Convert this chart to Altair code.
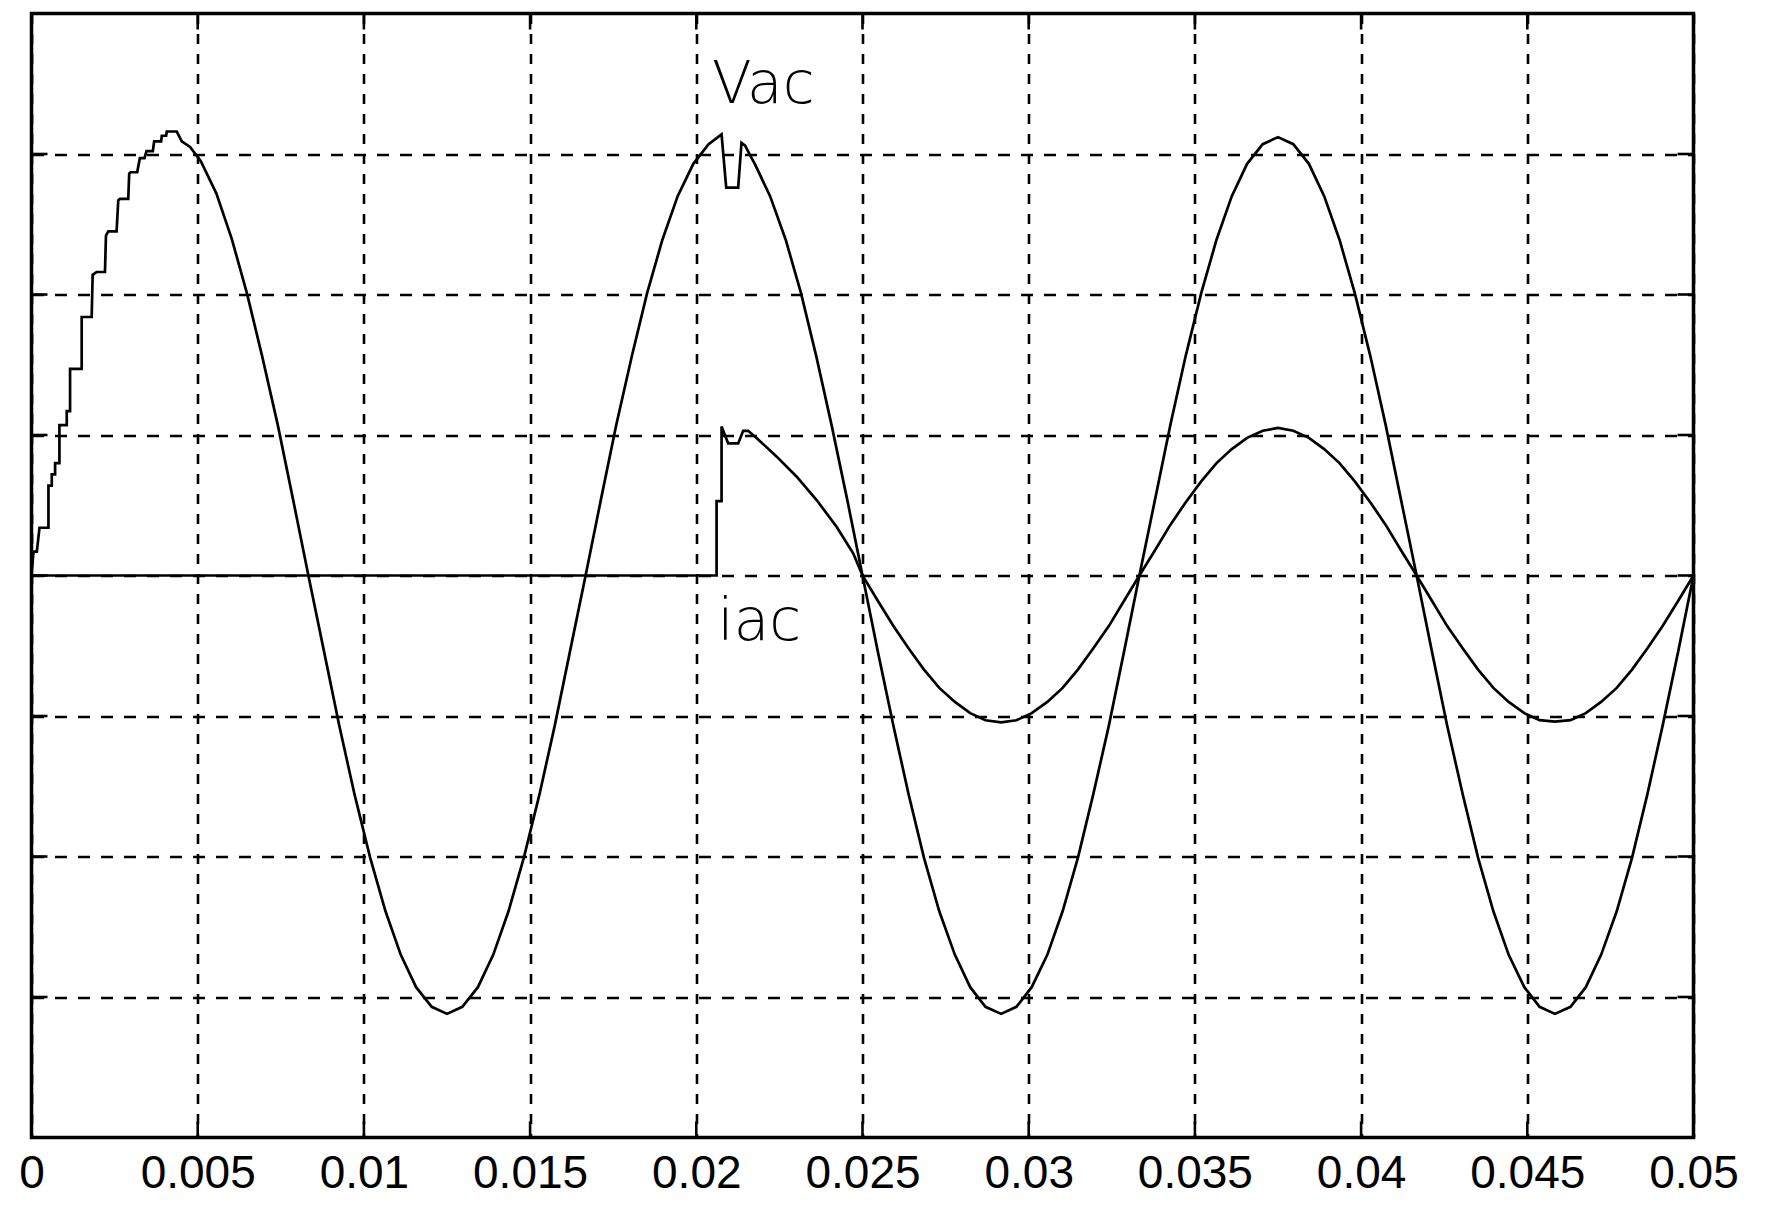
import altair as alt
import pandas as pd

# ---------------- data ----------------
vac_t = [0, 0.00006, 0.00016, 0.00024, 0.00051, 0.00051, 0.00061, 0.00061, 0.00071, 0.00071,
         0.00084, 0.00084, 0.00106, 0.00106, 0.00116, 0.00116, 0.00151, 0.00151, 0.00181, 0.00184,
         0.00196, 0.00221, 0.00224, 0.00231, 0.00256, 0.00261, 0.00266, 0.00291, 0.00294, 0.00298,
         0.00318, 0.00326, 0.00340, 0.00346, 0.00365, 0.00369, 0.00390, 0.00392, 0.00405, 0.00407,
         0.00437, 0.00452, 0.00477, 0.00509,
         0.00556, 0.00602, 0.00648, 0.00694, 0.00741, 0.00787, 0.00833, 0.00880, 0.00926, 0.00972,
         0.01019, 0.01065, 0.01111, 0.01157, 0.01204, 0.01250, 0.01296, 0.01343, 0.01389, 0.01435,
         0.01481, 0.01528, 0.01574, 0.01620, 0.01667, 0.01713, 0.01759, 0.01806, 0.01852, 0.01898,
         0.01944, 0.01991, 0.02037,
         0.02076, 0.02090, 0.02126, 0.02136, 0.02147, 0.02162,
         0.02176, 0.02222, 0.02269, 0.02315, 0.02361, 0.02407, 0.02454, 0.02500, 0.02546, 0.02593,
         0.02639, 0.02685, 0.02731, 0.02778, 0.02824, 0.02870, 0.02917, 0.02963, 0.03009, 0.03056,
         0.03102, 0.03148, 0.03194, 0.03241, 0.03287, 0.03333, 0.03380, 0.03426, 0.03472, 0.03519,
         0.03565, 0.03611, 0.03657, 0.03704, 0.03750, 0.03796, 0.03843, 0.03889, 0.03935, 0.03981,
         0.04028, 0.04074, 0.04120, 0.04167, 0.04213, 0.04259, 0.04306, 0.04352, 0.04398, 0.04444,
         0.04491, 0.04537, 0.04583, 0.04630, 0.04676, 0.04722, 0.04769, 0.04815, 0.04861, 0.04907,
         0.04954, 0.05000]
vac_v = [0, 0.17, 0.17, 0.34, 0.34, 0.64, 0.64, 0.72, 0.72, 0.80,
         0.80, 1.07, 1.07, 1.17, 1.17, 1.47, 1.47, 1.84, 1.84, 2.14,
         2.16, 2.16, 2.42, 2.45, 2.45, 2.67, 2.68, 2.68, 2.86, 2.87,
         2.87, 2.97, 2.97, 3.02, 3.02, 3.09, 3.09, 3.13, 3.13, 3.16,
         3.16, 3.09, 3.05, 2.95,
         2.72, 2.40, 2.01, 1.56, 1.07, 0.54, 0.00, -0.54, -1.07, -1.56,
         -2.01, -2.39, -2.70, -2.93, -3.07, -3.12, -3.07, -2.93, -2.70, -2.39,
         -2.01, -1.56, -1.07, -0.54, 0.00, 0.54, 1.07, 1.56, 2.01, 2.39,
         2.70, 2.93, 3.07,
         3.14, 2.76, 2.76, 3.08, 3.06, 2.99,
         2.93, 2.70, 2.39, 2.01, 1.56, 1.07, 0.54, 0.00, -0.54, -1.07,
         -1.56, -2.01, -2.39, -2.70, -2.93, -3.07, -3.12, -3.07, -2.93, -2.70,
         -2.39, -2.01, -1.56, -1.07, -0.54, 0.00, 0.54, 1.07, 1.56, 2.01,
         2.39, 2.70, 2.93, 3.07, 3.12, 3.07, 2.93, 2.70, 2.39, 2.01,
         1.56, 1.07, 0.54, 0.00, -0.54, -1.07, -1.56, -2.01, -2.39, -2.70,
         -2.93, -3.07, -3.12, -3.07, -2.93, -2.70, -2.39, -2.01, -1.56, -1.07,
         -0.54, 0.00]

iac_t = [0, 0.02061, 0.02061, 0.02076, 0.02076, 0.02086, 0.02096, 0.02126, 0.02141, 0.02156,
         0.02182, 0.02242, 0.02302, 0.02362, 0.02422, 0.02472, 0.02500,
         0.02546, 0.02593, 0.02639, 0.02685, 0.02731, 0.02778, 0.02824, 0.02870, 0.02917, 0.02963,
         0.03009, 0.03056, 0.03102, 0.03148, 0.03194, 0.03241, 0.03287, 0.03333, 0.03380, 0.03426,
         0.03472, 0.03519, 0.03565, 0.03611, 0.03657, 0.03704, 0.03750, 0.03796, 0.03843, 0.03889,
         0.03935, 0.03981, 0.04028, 0.04074, 0.04120, 0.04167, 0.04213, 0.04259, 0.04306, 0.04352,
         0.04398, 0.04444, 0.04491, 0.04537, 0.04583, 0.04630, 0.04676, 0.04722, 0.04769, 0.04815,
         0.04861, 0.04907, 0.04954, 0.05000]
iac_v = [0, 0, 0.53, 0.53, 1.06, 1.00, 0.94, 0.94, 1.03, 1.03,
         0.977, 0.846, 0.703, 0.537, 0.347, 0.158, 0.00,
         -0.18, -0.36, -0.52, -0.67, -0.80, -0.90, -0.98, -1.03, -1.045, -1.03,
         -0.98, -0.90, -0.80, -0.67, -0.52, -0.36, -0.18, 0.00, 0.18, 0.36,
         0.52, 0.67, 0.80, 0.90, 0.98, 1.03, 1.05, 1.03, 0.98, 0.90,
         0.80, 0.67, 0.52, 0.36, 0.18, 0.00, -0.18, -0.36, -0.52, -0.67,
         -0.80, -0.90, -0.98, -1.03, -1.04, -1.03, -0.98, -0.90, -0.80, -0.67,
         -0.52, -0.36, -0.18, 0.00]

x_ticks = [0, 0.005, 0.01, 0.015, 0.02, 0.025, 0.03, 0.035, 0.04, 0.045, 0.05]
y_ticks = [-3, -2, -1, 0, 1, 2, 3]

label_text = ["Vac", "iac"]
label_t = [0.02047, 0.02064]
label_v = [3.365, -0.459]

# ---------------- chart ----------------
W, H = 1662, 1124
TICK = 16

vac = pd.DataFrame({"t": vac_t, "v": vac_v, "i": list(range(len(vac_t)))})
iac = pd.DataFrame({"t": iac_t, "v": iac_v, "i": list(range(len(iac_t)))})
labels = pd.DataFrame({"t": label_t, "v": label_v, "s": label_text})
xt = pd.DataFrame({"t": x_ticks[1:-1]})
yt = pd.DataFrame({"v": y_ticks})

xs = alt.Scale(domain=[0, 0.05], nice=False, zero=False)
ys = alt.Scale(domain=[-4, 4], nice=False, zero=False)

x_axis = alt.Axis(values=x_ticks, format="~g", title=None, grid=True, ticks=False, tickSize=0,
                  domain=False, labelFont="Liberation Sans", labelFontSize=46, labelColor="black",
                  labelPadding=14, labelFlush=False, labelOverlap=False,
                  gridDash=[10, 10], gridColor="black", gridWidth=2.6, gridOpacity=1)
y_axis = alt.Axis(values=y_ticks, title=None, labels=False, ticks=False, tickSize=0, domain=False,
                  grid=True, gridDash=[12, 11], gridColor="black", gridWidth=2.6, gridOpacity=1)

X = alt.X("t:Q", scale=xs, axis=x_axis)
Y = alt.Y("v:Q", scale=ys, axis=y_axis)

vac_line = alt.Chart(vac).mark_line(color="black", strokeWidth=2.7).encode(
    x=X, y=Y, order="i:Q")
iac_line = alt.Chart(iac).mark_line(color="black", strokeWidth=2.7).encode(
    x=X, y=Y, order="i:Q")

bottom_ticks = alt.Chart(xt).mark_rule(color="black", strokeWidth=2.6).encode(
    x=X, y=alt.value(H), y2=alt.value(H - TICK))
top_ticks = alt.Chart(xt).mark_rule(color="black", strokeWidth=2.6).encode(
    x=X, y=alt.value(0), y2=alt.value(TICK))
left_ticks = alt.Chart(yt).mark_rule(color="black", strokeWidth=2.6).encode(
    y=Y, x=alt.value(0), x2=alt.value(TICK))
right_ticks = alt.Chart(yt).mark_rule(color="black", strokeWidth=2.6).encode(
    y=Y, x=alt.value(W), x2=alt.value(W - TICK))

text = alt.Chart(labels).mark_text(align="left", baseline="alphabetic", font="DejaVu Sans",
                                   fontSize=58, fontWeight=200, color="black").encode(
    x=X, y=Y, text="s:N")

chart = alt.layer(vac_line, iac_line, bottom_ticks, top_ticks, left_ticks, right_ticks, text).properties(
    width=W, height=H,
    autosize=alt.AutoSizeParams(type="none"),
    padding={"left": 23.5, "top": 5.5, "right": 55, "bottom": 61.5},
    background="white",
).configure_view(stroke="black", strokeWidth=3.5)

chart.save("out.html", embed_options={"renderer": "svg", "actions": False})
